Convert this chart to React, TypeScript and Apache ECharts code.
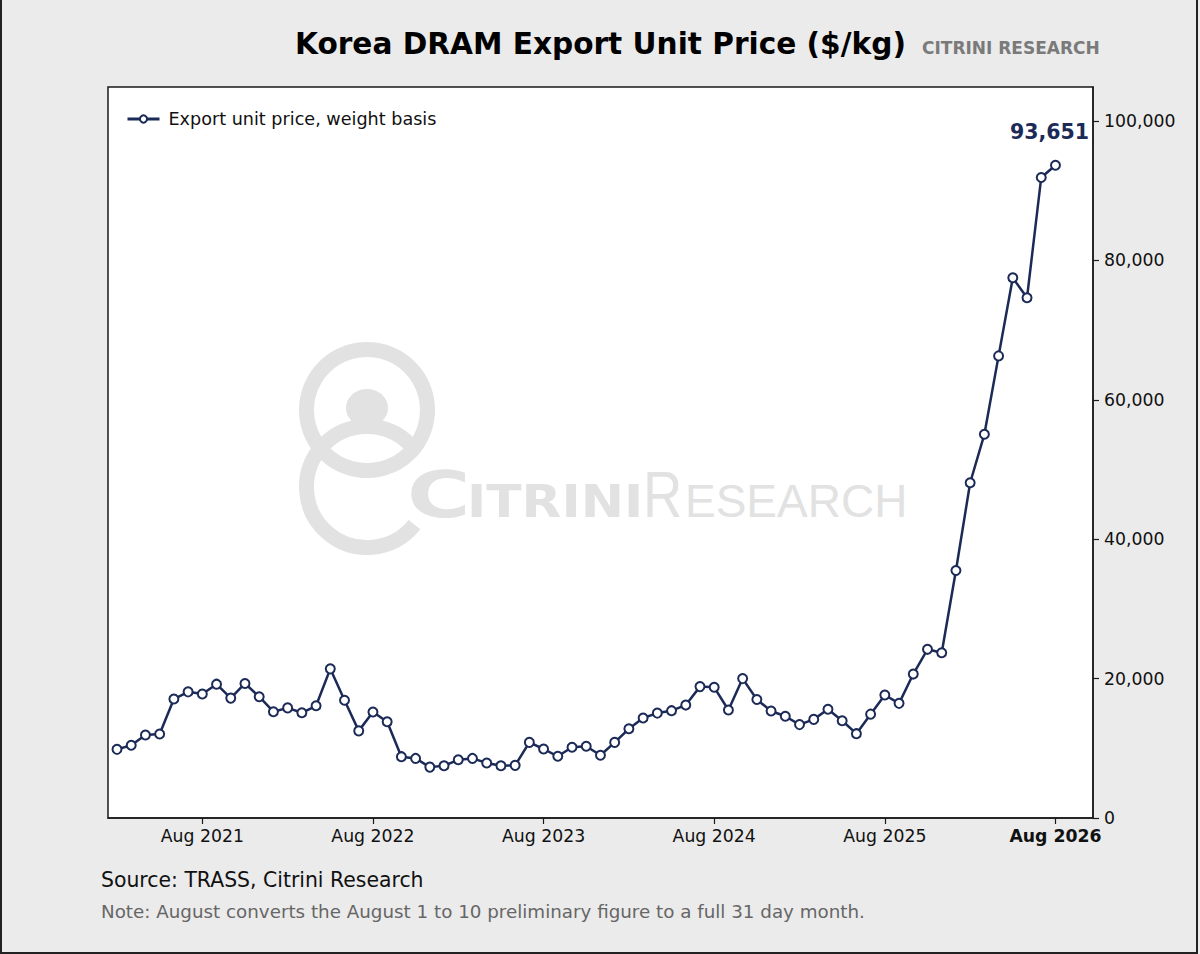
import React, { useEffect, useRef } from "react";
import * as echarts from "echarts";

const months = [
  "2021-02", "2021-03", "2021-04", "2021-05", "2021-06", "2021-07", "2021-08", "2021-09", "2021-10", "2021-11", "2021-12",
  "2022-01", "2022-02", "2022-03", "2022-04", "2022-05", "2022-06", "2022-07", "2022-08", "2022-09", "2022-10", "2022-11", "2022-12",
  "2023-01", "2023-02", "2023-03", "2023-04", "2023-05", "2023-06", "2023-07", "2023-08", "2023-09", "2023-10", "2023-11", "2023-12",
  "2024-01", "2024-02", "2024-03", "2024-04", "2024-05", "2024-06", "2024-07", "2024-08", "2024-09", "2024-10", "2024-11", "2024-12",
  "2025-01", "2025-02", "2025-03", "2025-04", "2025-05", "2025-06", "2025-07", "2025-08", "2025-09", "2025-10", "2025-11", "2025-12",
  "2026-01", "2026-02", "2026-03", "2026-04", "2026-05", "2026-06", "2026-07", "2026-08",
];

const prices = [
  9850, 10430, 11900, 12050, 17070, 18100, 17800, 19200, 17200, 19300, 17400,
  15250, 15800, 15100, 16100, 21400, 16900, 12500, 15200, 13800, 8800, 8550, 7300,
  7500, 8350, 8550, 7900, 7500, 7550, 10850, 9900, 8850, 10150, 10300, 9000,
  10850, 12800, 14350, 15050, 15400, 16200, 18850, 18750, 15500, 20000, 17000, 15350,
  14600, 13400, 14150, 15600, 13950, 12100, 14900, 17650, 16450, 20650, 24200, 23700,
  35500, 48100, 55050, 66300, 77500, 74650, 91900, 93651,
];

const tickMonths = ["2021-08", "2022-08", "2023-08", "2024-08", "2025-08", "2026-08"];
const tickLabels = ["Aug 2021", "Aug 2022", "Aug 2023", "Aug 2024", "Aug 2025", "Aug 2026"];
const yTicks = [0, 20000, 40000, 60000, 80000, 100000];

const seriesName = "Export unit price, weight basis";
const titleText = "Korea DRAM Export Unit Price ($/kg)";
const brandText = "CITRINI RESEARCH";
const sourceText = "Source: TRASS, Citrini Research";
const noteText = "Note: August converts the August 1 to 10 preliminary figure to a full 31 day month.";

const NAVY = "#1b2a56";
const WM = "#e2e2e2";
const FONT = "DejaVu Sans";

export default function App() {
  const ref = useRef<HTMLDivElement>(null);

  useEffect(() => {
    if (!ref.current) return;
    const chart = echarts.init(ref.current, null, { renderer: "svg" });

    const tickIdx = tickMonths.map((m) => months.indexOf(m));
    const lastIdx = prices.length - 1;
    const data = prices.map((v, i) =>
      i === lastIdx
        ? {
            value: [i, v],
            label: {
              show: true,
              position: "top",
              distance: 17,
              offset: [-6, 0],
              fontFamily: FONT,
              fontSize: 20.5,
              fontWeight: "bold",
              color: NAVY,
              formatter: (p: any) => Number(p.value[1]).toLocaleString("en-US"),
            },
          }
        : { value: [i, v] }
    );

    chart.setOption({
      animation: false,
      backgroundColor: "#ebebeb",
      textStyle: { fontFamily: FONT },
      grid: {
        left: 108,
        top: 87,
        right: 107,
        bottom: 136,
        show: true,
        backgroundColor: "#ffffff",
        borderColor: "#1a1a1a",
        borderWidth: 1.5,
      },
      legend: {
        show: true,
        left: 126,
        top: 110,
        padding: 0,
        itemWidth: 32,
        itemHeight: 9,
        lineStyle: { width: 3 },
        itemStyle: { borderWidth: 2 },
        textStyle: { fontFamily: FONT, fontSize: 17.6, color: "#111", padding: [0, 0, 0, 4] },
        data: [seriesName],
      },
      xAxis: {
        type: "value",
        min: -0.633,
        max: 68.64,
        splitLine: { show: false },
        axisLine: { show: true, onZero: false, lineStyle: { color: "#1a1a1a", width: 1.5 } },
        axisTick: { show: true, length: 6, customValues: tickIdx, lineStyle: { color: "#1a1a1a", width: 1.2 } },
        axisLabel: {
          show: true,
          customValues: tickIdx,
          margin: 9,
          fontFamily: FONT,
          fontSize: 17.3,
          color: "#111",
          formatter: (v: number) => {
            const k = tickIdx.indexOf(Math.round(v));
            if (k < 0) return "";
            return k === tickIdx.length - 1 ? "{b|" + tickLabels[k] + "}" : tickLabels[k];
          },
          rich: { b: { fontFamily: FONT, fontSize: 17.3, fontWeight: "bold", color: "#111" } },
        },
      },
      yAxis: {
        type: "value",
        position: "right",
        min: 0,
        max: 104880,
        splitLine: { show: false },
        axisLine: { show: true, onZero: false, lineStyle: { color: "#1a1a1a", width: 1.5 } },
        axisTick: { show: true, length: 6, customValues: yTicks, lineStyle: { color: "#1a1a1a", width: 1.2 } },
        axisLabel: {
          show: true,
          customValues: yTicks,
          margin: 11,
          fontFamily: FONT,
          fontSize: 17.3,
          color: "#111",
          formatter: (v: number) => Number(v).toLocaleString("en-US"),
        },
      },
      graphic: [
        {
          type: "group",
          z: 1,
          silent: true,
          children: [
            { type: "ring", shape: { cx: 367, cy: 410, r: 68, r0: 53 }, style: { fill: WM } },
            {
              type: "arc",
              shape: { cx: 367, cy: 487, r: 60.5, startAngle: 0.67, endAngle: 5.5, clockwise: true },
              style: { stroke: WM, lineWidth: 15, fill: null },
            },
            { type: "ellipse", shape: { cx: 367, cy: 408, rx: 21, ry: 19 }, style: { fill: WM } },
            {
              type: "text",
              x: 407,
              y: 494.6,
              scaleX: 1.35,
              style: { text: "C", fill: WM, font: "bold 64px 'DejaVu Sans'", verticalAlign: "middle", align: "left" },
            },
            {
              type: "text",
              x: 467,
              y: 501.3,
              scaleX: 1.15,
              style: { text: "ITRINI", fill: WM, font: "bold 45px 'DejaVu Sans'", verticalAlign: "middle", align: "left" },
            },
            {
              type: "text",
              x: 643,
              y: 494.6,
              scaleX: 0.85,
              style: { text: "R", fill: WM, font: "64px 'Liberation Sans'", verticalAlign: "middle", align: "left" },
            },
            {
              type: "text",
              x: 685,
              y: 500.9,
              style: { text: "ESEARCH", fill: WM, font: "46px 'Liberation Sans'", verticalAlign: "middle", align: "left" },
            },
          ],
        },
        {
          type: "text",
          x: 295,
          y: 44.2,
          style: { text: titleText, fill: "#000", font: "bold 29.6px 'DejaVu Sans'", verticalAlign: "middle", align: "left" },
        },
        {
          type: "text",
          x: 922,
          y: 48.4,
          style: { text: brandText, fill: "#7a7a7a", font: "bold 17px 'DejaVu Sans'", verticalAlign: "middle", align: "left" },
        },
        {
          type: "text",
          x: 101,
          y: 880.3,
          style: { text: sourceText, fill: "#111", font: "20.4px 'DejaVu Sans'", verticalAlign: "middle", align: "left" },
        },
        {
          type: "text",
          x: 101,
          y: 911,
          style: { text: noteText, fill: "#666", font: "18.3px 'DejaVu Sans'", verticalAlign: "middle", align: "left" },
        },
        {
          type: "rect",
          shape: { x: 1, y: -10, width: 1196, height: 963 },
          style: { fill: null, stroke: "#222", lineWidth: 2 },
          silent: true,
        },
      ],
      series: [
        {
          name: seriesName,
          type: "line",
          z: 3,
          data,
          symbol: "circle",
          symbolSize: 9,
          showAllSymbol: true,
          lineStyle: { color: NAVY, width: 2.5 },
          itemStyle: { color: "#ffffff", borderColor: NAVY, borderWidth: 2 },
        },
      ],
    });

    return () => chart.dispose();
  }, []);

  return (
    <div
      ref={ref}
      style={{ position: "fixed", left: 0, top: 0, width: 1200, height: 954 }}
    />
  );
}
